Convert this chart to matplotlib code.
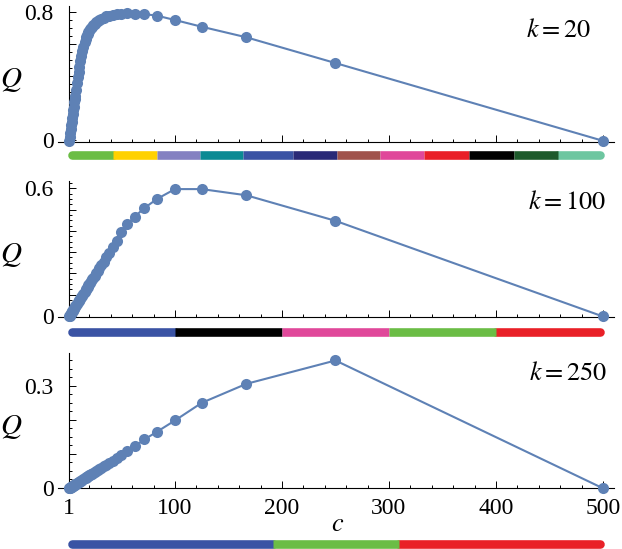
import matplotlib.pyplot as plt
import matplotlib.transforms as mtransforms
from matplotlib.ticker import MultipleLocator, FixedLocator

plt.rcParams['font.family'] = ['Liberation Serif', 'DejaVu Serif']
plt.rcParams['mathtext.fontset'] = 'stix'

# community size c (N = 500 nodes split into n groups)
c_vals = [500, 250, 166.7, 125, 100, 83.3, 71.4, 62.5, 55.6, 50,
          45.5, 41.7, 38.5, 35.7, 33.3, 31.3, 29.4, 27.8, 26.3, 25,
          23.8, 22.7, 21.7, 20.8, 20, 19.2, 18.5, 17.9, 17.2, 16.7,
          15.6, 14.3, 13.2, 12.2, 11.4, 10.6, 10,
          9.3, 8.5, 7.6, 6.9, 6.4, 6.0, 5.4, 5.0, 4.5, 4.0,
          3.5, 3.0, 2.5, 2.0, 1.5, 1.0]

q_k20 = [-0.002, 0.484, 0.645, 0.711, 0.753, 0.78, 0.79, 0.793, 0.795, 0.79,
         0.788, 0.785, 0.78, 0.775, 0.768, 0.762, 0.754, 0.747, 0.738, 0.73,
         0.721, 0.712, 0.703, 0.694, 0.685, 0.675, 0.666, 0.657, 0.646, 0.637,
         0.616, 0.587, 0.557, 0.525, 0.495, 0.46, 0.43,
         0.395, 0.358, 0.315, 0.281, 0.257, 0.238, 0.209, 0.19, 0.166, 0.142,
         0.118, 0.094, 0.07, 0.046, 0.022, -0.002]

q_k100 = [-0.002, 0.447, 0.567, 0.596, 0.596, 0.55, 0.507, 0.467, 0.433, 0.394,
          0.354, 0.323, 0.298, 0.276, 0.256, 0.24, 0.225, 0.212, 0.2, 0.19,
          0.18, 0.172, 0.164, 0.156, 0.15, 0.144, 0.138, 0.133, 0.128, 0.124,
          0.115, 0.104, 0.096, 0.088, 0.081, 0.075, 0.07,
          0.064, 0.058, 0.051, 0.045, 0.041, 0.038, 0.033, 0.03, 0.026, 0.022,
          0.018, 0.014, 0.01, 0.006, 0.002, -0.002]

q_k250 = [-0.002, 0.375, 0.306, 0.25, 0.198, 0.165, 0.142, 0.122, 0.107, 0.096,
          0.087, 0.079, 0.073, 0.067, 0.063, 0.059, 0.055, 0.052, 0.049, 0.046,
          0.044, 0.041, 0.039, 0.038, 0.036, 0.034, 0.033, 0.032, 0.030, 0.029,
          0.027, 0.025, 0.022, 0.020, 0.019, 0.017, 0.016,
          0.015, 0.013, 0.011, 0.010, 0.009, 0.008, 0.007, 0.006, 0.005, 0.004,
          0.003, 0.002, 0.001, 0.0, -0.001, -0.002]

# best partitions shown under each panel (edges in c units)
bar_edges_k20 = [1, 42.4, 83.5, 123.4, 163.9, 210.6, 251.2, 291.6, 332.7, 375.1, 416.9, 458.3, 500]
bar_edges_k100 = [1, 100, 200, 300, 400, 500]
bar_edges_k250 = [1, 192, 309, 500]

bar_colors_k20 = ['#6bbd45', '#ffd100', '#8481c1', '#0b8a93', '#3a53a4', '#2a2a77',
                  '#a0534c', '#e0489a', '#e92027', '#000000', '#1d5a2b', '#6dc6a0']
bar_colors_k100 = ['#3a53a4', '#000000', '#e0489a', '#6bbd45', '#e92027']
bar_colors_k250 = ['#3a53a4', '#6bbd45', '#e92027']

x_ticks = [1, 100, 200, 300, 400, 500]
x_ticklabels = ['1', '100', '200', '300', '400', '500']

W, H = 622, 549
fig = plt.figure(figsize=(W / 100, H / 100), dpi=100)
blue = '#5e81b5'

panels = [
    # k, q, ylim, top px, bottom px, major, minor, labelled ticks, edges, colours, bar y px, label pos
    (20, q_k20, (-0.0075, 0.8406), 6, 141.7, 0.2, 0.05, {0: '0', 0.8: '0.8'},
     bar_edges_k20, bar_colors_k20, 155, (0.9, 0.823)),
    (100, q_k100, (-0.003, 0.634), 181, 316.7, 0.1, 0.025, {0: '0', 0.6: '0.6'},
     bar_edges_k100, bar_colors_k100, 332, (0.916, 0.838)),
    (250, q_k250, (-0.002, 0.397), 353, 488.3, 0.1, 0.025, {0: '0', 0.3: '0.3'},
     bar_edges_k250, bar_colors_k250, 544, (0.918, 0.845)),
]

left_px, right_px = 58, 614
for i, (k, q, ylim, top, bot, major, minor, ylabels, edges, colors, bar_y, kpos) in enumerate(panels):
    ax = fig.add_axes([left_px / W, 1 - bot / H, (right_px - left_px) / W, (bot - top) / H])
    ax.set_xlim(-9.3, 510.3)
    ax.set_ylim(*ylim)
    for s in ['top', 'right']:
        ax.spines[s].set_visible(False)
    ax.spines['left'].set_position(('data', 1))
    ax.spines['left'].set_linewidth(0.8)
    ax.spines['bottom'].set_linewidth(0.8)

    ax.plot(c_vals, q, color=blue, lw=1.5, zorder=2)
    ax.plot(c_vals, q, 'o', color=blue, ms=8, mec='none', zorder=3, clip_on=False)

    ax.xaxis.set_major_locator(FixedLocator(x_ticks))
    ax.xaxis.set_minor_locator(MultipleLocator(20))
    if i == 2:
        ax.set_xticklabels(x_ticklabels)
        ax.set_xlabel('$c$', fontsize=19, va='center')
        ax.xaxis.set_label_coords(0.502, -0.271)
    else:
        ax.set_xticklabels([''] * len(x_ticks))

    yt = [round(j * major, 3) for j in range(int(ylim[1] / major + 1e-6) + 1)]
    ax.set_yticks(yt)
    ax.set_yticklabels([ylabels.get(round(v, 3), '') for v in yt])
    ax.yaxis.set_minor_locator(MultipleLocator(minor))
    ax.tick_params(which='both', direction='in', width=0.7, labelsize=17, pad=7)
    ax.tick_params(which='major', length=5)
    ax.tick_params(which='minor', length=2.5)
    ax.tick_params(axis='y', pad=11)

    ax.set_ylabel('$Q$', fontsize=21, rotation=0, va='center', ha='center')
    ax.yaxis.set_label_coords(-0.084, 0.455)
    ax.text(kpos[0], kpos[1], '$k = %d$' % k, transform=ax.transAxes,
            ha='center', va='center', fontsize=19)

    # partition bar under the axis
    trans = mtransforms.blended_transform_factory(ax.transData, fig.transFigure)
    yb = 1 - bar_y / H
    inset = 4.2 / ((right_px - left_px) / (510.3 + 9.3))
    n = len(colors)
    order = [0, n - 1] + list(range(1, n - 1))
    for j in order:
        a, b = edges[j], edges[j + 1]
        cap = 'butt'
        if j == 0:
            a, cap = a + inset - 1, 'round'
        if j == n - 1:
            b, cap = b - inset + 1, 'round'
        ax.plot([a, b], [yb, yb], color=colors[j], lw=6.2, solid_capstyle=cap,
                transform=trans, clip_on=False)

fig.savefig('out.png', dpi=100)
